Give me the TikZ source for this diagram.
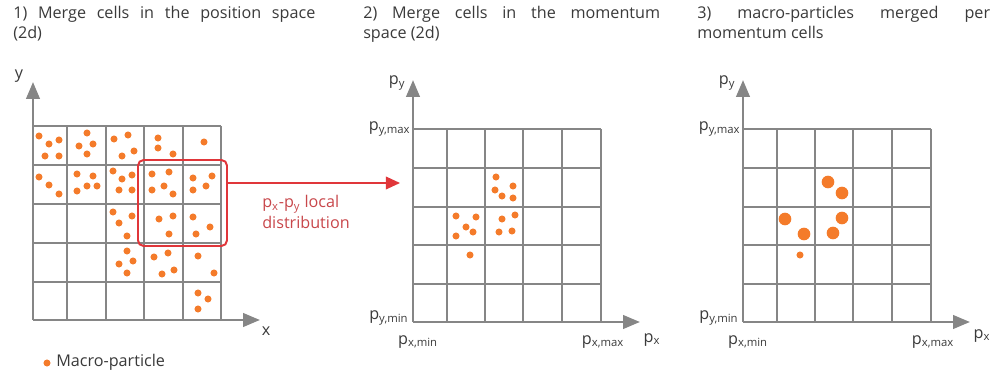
\documentclass[tikz,border=0pt]{standalone}
\usepackage{fontspec}
\setmainfont{Open Sans}
\usetikzlibrary{arrows.meta, positioning}
\definecolor{gridGray}{HTML}{868686}
\definecolor{dotOrange}{HTML}{F47B2A}
\definecolor{boxRed}{HTML}{E0363A}
\definecolor{labelRed}{HTML}{C8474B}
\definecolor{textDark}{HTML}{3A3A3A}
\newcommand{\psub}[1]{p\textsubscript{#1}}

\begin{document}
\begin{tikzpicture}[x=0.025cm, y=-0.025cm,
    font=\fontsize{11.5}{14.5}\selectfont\color{textDark},
    cellgrid/.style={draw=gridGray, line width=2pt},
    axis/.style={draw=gridGray, line width=2pt, -{Triangle[length=12pt, width=9.5pt]}},
    particle/.style={fill=dotOrange},
    title/.style={anchor=north west, align=justify, inner sep=0pt},
    axlabel/.style={inner sep=1pt},
    localbox/.style={draw=boxRed, line width=1.4pt, rounded corners=4pt,
                 minimum width=2.225cm, minimum height=2.15cm, inner sep=0pt},
    redarrow/.style={draw=boxRed, line width=1pt, -{Triangle[length=10pt, width=9pt]}},
  ]
    \useasboundingbox (0,0) rectangle (994,372);

    % titles
    \node[title, text width=7.55cm] (t1) at (13,6) {1) Merge cells in the position space\linebreak (2d)};
    \node[title, text width=7.42cm] (t2) at (363,6) {2) Merge cells in the momentum\linebreak space (2d)};
    \node[title, text width=7.32cm] (t3) at (697,6) {3) macro-particles merged per\linebreak momentum cells};

    % position space
    \foreach \y in {126,165,204,243,282} \draw[cellgrid] (33,\y) -- (221,\y);
    \foreach \x in {67,106,144,183,221} \draw[cellgrid] (\x,126) -- (\x,320);
    \coordinate (o1) at (33,320);
    \draw[axis] (o1) -- (33,82);
    \draw[axis] (o1) -- (260,320);
    \node[axlabel] (ylab1) at (19,76) {y};
    \node[axlabel] (xlab1) at (266,331) {x};
    \foreach \p in {(39,136),(49,144),(59,140),(45,156),(59,156),
        (87,133),(79,146),(93,144),(87,154),
        (114,139),(128,135),(122,156),(134,151),
        (158,138),(158,148),(173,154),(204,142),
        (39,177),(49,185),(59,194),
        (77,174),(93,176),(87,186),(97,186),(77,191),
        (113,171),(122,179),(132,175),(119,190),(132,190),
        (152,174),(169,172),(164,186),(152,190),(173,194),
        (193,178),(212,176),(206,186),(193,190),
        (113,212),(132,216),(119,223),(127,236),
        (159,219),(173,216),(169,234),
        (193,217),(210,227),(196,234),
        (127,251),(133,261),(119,264),(127,273),
        (154,257),(168,253),(174,270),(162,274),
        (198,256),(214,273),
        (198,293),(208,299),(198,309)}
      \fill[particle] \p circle (2.5pt);

    \node[localbox] (local) at (182.5,203) {};
    \coordinate (mtarget) at (400,183);
    \draw[redarrow] (local.east |- mtarget) -- (mtarget);
    \node[anchor=west, align=left, text=labelRed, inner sep=0pt] (loclab) at (262,212)
      {\psub{x}-\psub{y} local\\distribution};

    % momentum space
    \foreach \y in {129,168,207,245,284} \draw[cellgrid] (413,\y) -- (601,\y);
    \foreach \x in {447,485,523,562,601} \draw[cellgrid] (\x,129) -- (\x,322);
    \coordinate (o2) at (413,322);
    \draw[axis] (o2) -- (413,80);
    \draw[axis] (o2) -- (640,322);
    \node[axlabel] (py2) at (397,83) {\psub{y}};
    \node[axlabel, anchor=east] (pymax2) at (412,129) {\psub{y,max}};
    \node[axlabel, anchor=east] (pymin2) at (410,318) {\psub{y,min}};
    \node[axlabel] (pxmin2) at (418,342) {\psub{x,min}};
    \node[axlabel] (pxmax2) at (603,342) {\psub{x,max}};
    \node[axlabel] (px2) at (652,340) {\psub{x}};
    \foreach \p in {(496,177),(513,186),(495,190),(502,196),(513,198),
        (456,216),(476,217),(466,227),(473,232),(456,236),
        (502,219),(515,215),(499,232),(512,231),(470,255)}
      \fill[particle] \p circle (2.5pt);

    % merged
    \foreach \y in {129,168,207,245,284} \draw[cellgrid] (743,\y) -- (931,\y);
    \foreach \x in {777,815,853,892,931} \draw[cellgrid] (\x,129) -- (\x,322);
    \coordinate (o3) at (743,322);
    \draw[axis] (o3) -- (743,80);
    \draw[axis] (o3) -- (970,322);
    \node[axlabel] (py3) at (727,83) {\psub{y}};
    \node[axlabel, anchor=east] (pymax3) at (742,129) {\psub{y,max}};
    \node[axlabel, anchor=east] (pymin3) at (740,318) {\psub{y,min}};
    \node[axlabel] (pxmin3) at (748,342) {\psub{x,min}};
    \node[axlabel] (pxmax3) at (933,342) {\psub{x,max}};
    \node[axlabel] (px3) at (982,336) {\psub{x}};
    \foreach \p in {(828,182),(842,193),(785,219),(842,218),(804,234),(833,233)}
      \fill[particle] \p circle (4.5pt);
    \fill[particle] (800,255) circle (2.5pt);

    % legend
    \fill[particle] (47,363) circle (2.5pt);
    \node[anchor=west, inner sep=0pt] (legend) at (56,362) {Macro-particle};
  \end{tikzpicture}
\end{document}
